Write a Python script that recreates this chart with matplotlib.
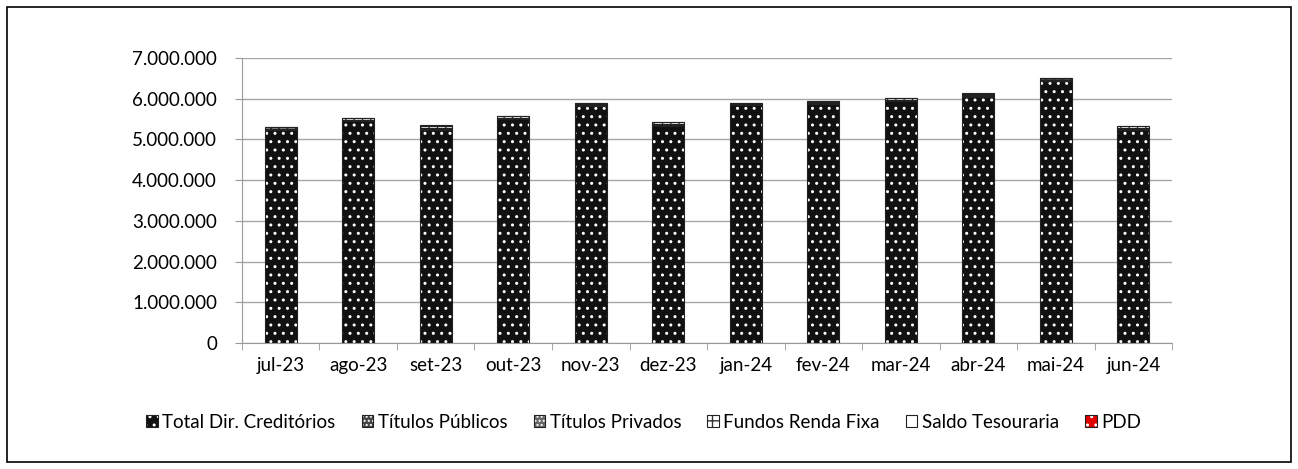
import numpy as np
import matplotlib
matplotlib.use("Agg")
import matplotlib.pyplot as plt
from matplotlib.patches import Rectangle
from matplotlib.ticker import FuncFormatter, FixedLocator

plt.rcParams['font.family'] = ['Lato', 'DejaVu Sans']

# ---- data ----
meses = ['jul-23', 'ago-23', 'set-23', 'out-23', 'nov-23', 'dez-23',
         'jan-24', 'fev-24', 'mar-24', 'abr-24', 'mai-24', 'jun-24']
total_dir_cred = [5230000, 5450000, 5230000, 5490000, 5830000, 5340000,
                  5840000, 5880000, 5950000, 6050000, 6440000, 5230000]
titulos_publicos = [20000, 20000, 30000, 20000, 20000, 20000,
                    20000, 20000, 20000, 20000, 20000, 30000]
titulos_privados = [10000, 10000, 10000, 10000, 10000, 10000,
                    10000, 10000, 10000, 10000, 10000, 10000]
fundos_renda_fixa = [40000, 40000, 60000, 50000, 30000, 50000,
                     20000, 30000, 30000, 40000, 40000, 50000]
saldo_tesouraria = [10000, 10000, 20000, 10000, 10000, 10000,
                    10000, 10000, 10000, 20000, 10000, 20000]
pdd = [-5000, -5000, -5000, -5000, -5000, -5000,
       -5000, -5000, -5000, -5000, -5000, -5000]

# label, values, face colour, hatch colour, hatch
series = [
    ('Total Dir. Creditórios', total_dir_cred, '#111111', 'white', '..'),
    ('Títulos Públicos', titulos_publicos, '#444444', 'white', '....'),
    ('Títulos Privados', titulos_privados, '#666666', 'white', '....'),
    ('Fundos Renda Fixa', fundos_renda_fixa, 'white', '#333333', '++'),
    ('Saldo Tesouraria', saldo_tesouraria, 'white', '#555555', ''),
    ('PDD', pdd, '#e00000', 'white', '..'),
]

fig = plt.figure(figsize=(12.98, 4.69), dpi=100)
ax = fig.add_axes([0.1864, 0.2687, 0.7166, 0.6076])

x = np.arange(len(meses))
width = 0.41
bottom = np.zeros(len(meses))
neg_bottom = np.zeros(len(meses))
handles = []
for label, vals, face, hcolor, hatch in series:
    vals = np.array(vals, dtype=float)
    base = np.where(vals >= 0, bottom, neg_bottom)
    ax.bar(x, vals, width, bottom=base, color=face, edgecolor=hcolor,
           hatch=hatch, linewidth=0, zorder=3)
    # outline
    ax.bar(x, vals, width, bottom=base, fill=False, edgecolor='#222222',
           linewidth=0.8, zorder=4)
    bottom = bottom + np.where(vals >= 0, vals, 0)
    neg_bottom = neg_bottom + np.where(vals < 0, vals, 0)
    fill_patch = Rectangle((0, 0), 1, 1, facecolor=face, edgecolor=hcolor,
                           hatch=hatch, linewidth=0)
    edge_patch = Rectangle((0, 0), 1, 1, fill=False, edgecolor='#222222',
                           linewidth=0.8)
    handles.append((fill_patch, edge_patch))

ax.set_xlim(-0.5, len(meses) - 0.5)
ax.set_ylim(0, 7000000)
ax.set_yticks(np.arange(0, 7000001, 1000000))
ax.yaxis.set_major_formatter(FuncFormatter(lambda v, p: f'{int(v):,}'.replace(',', '.')))
ax.set_xticks(x)
ax.set_xticklabels(meses)
ax.xaxis.set_minor_locator(FixedLocator(np.arange(-0.5, len(meses), 1.0)))
ax.tick_params(axis='x', which='major', length=0, pad=10, labelsize=13.5)
ax.tick_params(axis='x', which='minor', length=5, color='#999999')
ax.tick_params(axis='y', length=5, color='#999999', labelsize=13.5, pad=13)
ax.grid(axis='y', color='#a6a6a6', linewidth=1, zorder=0)
for s in ['top', 'right']:
    ax.spines[s].set_visible(False)
for s in ['left', 'bottom']:
    ax.spines[s].set_color('#999999')

fig.legend(handles, [s[0] for s in series], loc='center', ncol=6,
           bbox_to_anchor=(0.496, 0.10), frameon=False, fontsize=13.5,
           handlelength=0.6, handleheight=0.6, handletextpad=0.25,
           columnspacing=1.4)

# outer border
fig.patches.append(Rectangle((0.0054, 0.0149), 0.9892, 0.9702, transform=fig.transFigure,
                             fill=False, edgecolor='black', linewidth=1.2))

fig.savefig('out.png', dpi=100)
